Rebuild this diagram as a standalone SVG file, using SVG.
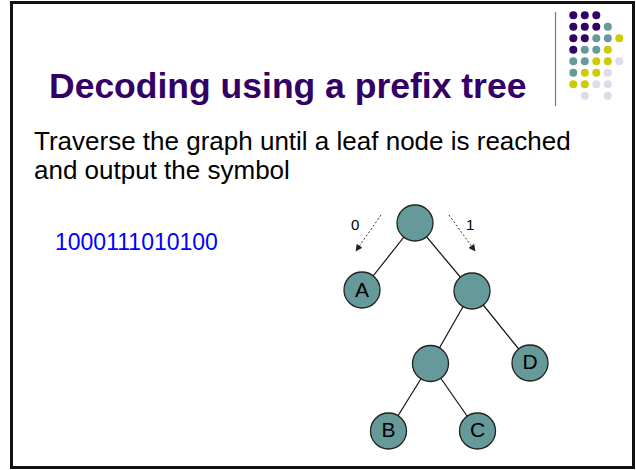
<svg xmlns="http://www.w3.org/2000/svg" width="636" height="470" viewBox="0 0 636 470">
<defs>
<style>
.frame{fill:#fff;stroke:#111;stroke-width:3}
.title{font-family:"Liberation Sans",Arial,sans-serif;font-weight:bold;font-size:35.5px;fill:#330066}
.body{font-family:"Liberation Sans",Arial,sans-serif;font-size:26px;fill:#000}
.code{font-family:"Liberation Sans",Arial,sans-serif;font-size:23px;fill:#0000ff}
.small{font-family:"Liberation Sans",Arial,sans-serif;font-size:15px;fill:#000}
.node circle{fill:#669999;stroke:#222;stroke-width:1.3}
.node text{font-family:"Liberation Sans",Arial,sans-serif;font-size:21px;fill:#000;text-anchor:middle}
.edge{stroke:#111;stroke-width:1.2;fill:none}
.dash{stroke:#333;stroke-width:1;stroke-dasharray:2,2;fill:none}
.p{fill:#330066}.t{fill:#669999}.y{fill:#cccc00}.l{fill:#dcdcec}
</style>
<marker id="ah" viewBox="0 0 10 10" refX="9" refY="5" markerWidth="7" markerHeight="7" orient="auto" markerUnits="userSpaceOnUse">
<path d="M0,0 L10,5 L0,10 z" fill="#222"/>
</marker>
</defs>
<rect class="frame" x="11.5" y="2.5" width="622" height="465"/>
<g id="logo">
<line x1="555.5" y1="12" x2="555.5" y2="106" stroke="#777" stroke-width="1.2"/>
<g>
<circle class="p" cx="573.3" cy="15.3" r="4"/><circle class="p" cx="584.8" cy="15.3" r="4"/><circle class="p" cx="596.3" cy="15.3" r="4"/>
<circle class="p" cx="573.3" cy="26.8" r="4"/><circle class="p" cx="584.8" cy="26.8" r="4"/><circle class="p" cx="596.3" cy="26.8" r="4"/><circle class="t" cx="607.8" cy="26.8" r="4"/>
<circle class="p" cx="573.3" cy="38.3" r="4"/><circle class="p" cx="584.8" cy="38.3" r="4"/><circle class="t" cx="596.3" cy="38.3" r="4"/><circle class="t" cx="607.8" cy="38.3" r="4"/><circle class="y" cx="619.3" cy="38.3" r="4"/>
<circle class="p" cx="573.3" cy="49.8" r="4"/><circle class="t" cx="584.8" cy="49.8" r="4"/><circle class="t" cx="596.3" cy="49.8" r="4"/><circle class="y" cx="607.8" cy="49.8" r="4"/>
<circle class="t" cx="573.3" cy="61.3" r="4"/><circle class="t" cx="584.8" cy="61.3" r="4"/><circle class="y" cx="596.3" cy="61.3" r="4"/><circle class="y" cx="607.8" cy="61.3" r="4"/><circle class="l" cx="619.3" cy="61.3" r="4"/>
<circle class="t" cx="573.3" cy="72.8" r="4"/><circle class="y" cx="584.8" cy="72.8" r="4"/><circle class="y" cx="596.3" cy="72.8" r="4"/><circle class="l" cx="607.8" cy="72.8" r="4"/>
<circle class="y" cx="573.3" cy="84.3" r="4"/><circle class="y" cx="584.8" cy="84.3" r="4"/><circle class="l" cx="596.3" cy="84.3" r="4"/><circle class="l" cx="607.8" cy="84.3" r="4"/>
<circle class="l" cx="584.8" cy="95.8" r="4"/><circle class="l" cx="607.8" cy="95.8" r="4"/>
</g>
</g>
<text class="title" x="49" y="98">Decoding using a prefix tree</text>
<text class="body" x="34" y="150">Traverse the graph until a leaf node is reached</text>
<text class="body" x="34" y="179">and output the symbol</text>
<text class="code" x="55" y="250">1000111010100</text>
<g id="connectors">
<line class="edge" x1="415" y1="223" x2="362" y2="290"/>
<line class="edge" x1="415" y1="223" x2="472" y2="291"/>
<line class="edge" x1="472" y1="291" x2="430.5" y2="363.5"/>
<line class="edge" x1="472" y1="291" x2="530" y2="363"/>
<line class="edge" x1="430.5" y1="363.5" x2="388.5" y2="431"/>
<line class="edge" x1="430.5" y1="363.5" x2="477.5" y2="431"/>
<line class="dash" x1="381" y1="215" x2="356" y2="251" marker-end="url(#ah)"/>
<line class="dash" x1="449" y1="215" x2="475" y2="251" marker-end="url(#ah)"/>
<text class="small" x="351" y="230">0</text>
<text class="small" x="466" y="230">1</text>
</g>
<g id="node-root" class="node"><circle cx="415" cy="223" r="18"/></g>
<g id="node-A" class="node"><circle cx="362" cy="290" r="18"/><text x="362" y="297">A</text></g>
<g id="node-R" class="node"><circle cx="472" cy="291" r="18"/></g>
<g id="node-M" class="node"><circle cx="430.5" cy="363.5" r="18"/></g>
<g id="node-D" class="node"><circle cx="530" cy="363" r="18"/><text x="530" y="369">D</text></g>
<g id="node-B" class="node"><circle cx="388.5" cy="431" r="18"/><text x="388.5" y="437">B</text></g>
<g id="node-C" class="node"><circle cx="477.5" cy="431" r="18"/><text x="477.5" y="437">C</text></g>
</svg>
